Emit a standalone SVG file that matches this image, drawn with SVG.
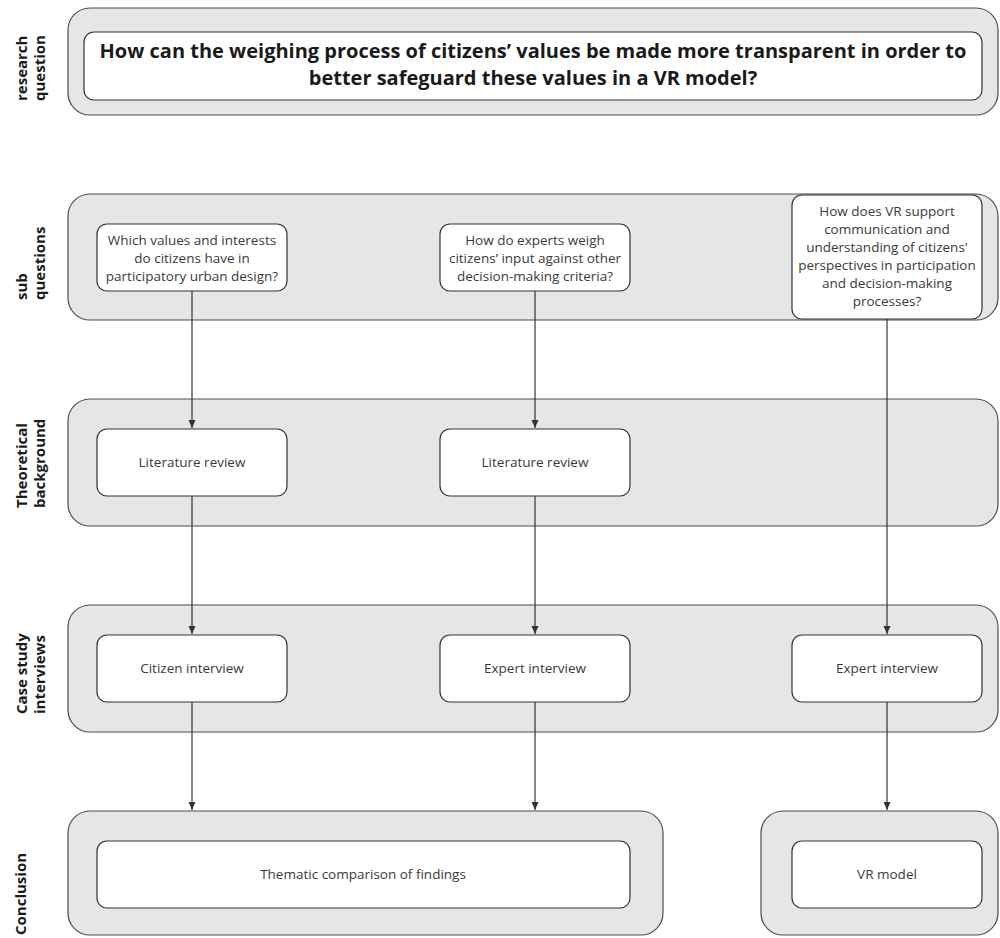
<svg xmlns="http://www.w3.org/2000/svg" width="1000" height="938" viewBox="0 0 1000 938">
<defs>
<style>
.panel{fill:#e6e6e6;stroke:#4d4d4d;stroke-width:1.2}
.box{fill:#ffffff;stroke:#333333;stroke-width:1.2}
.lbl{font-family:"Open Sans","Noto Sans",sans-serif;font-weight:700;font-size:15px;fill:#1a1a1a;text-anchor:start}
.t{font-family:"Open Sans","Noto Sans",sans-serif;font-size:13.5px;fill:#3a3a3a;text-anchor:middle}
.rq{font-family:"Open Sans","Noto Sans",sans-serif;font-weight:700;font-size:20px;fill:#1a1a1a;text-anchor:middle}
.conn{stroke:#333333;stroke-width:1.2;fill:none}
</style>
<marker id="arr" markerWidth="10" markerHeight="10" refX="9" refY="5" orient="auto" markerUnits="userSpaceOnUse">
<path d="M1,1.5 L9,5 L1,8.5 Z" fill="#333333"/>
</marker>
</defs>
<rect width="1000" height="938" fill="#ffffff"/>

<g id="row-research">
<rect class="panel" x="68" y="8" width="930" height="107" rx="22"/>
<text class="lbl" transform="translate(0,101) rotate(-90)"><tspan x="0" y="27">research</tspan><tspan x="0" y="45">question</tspan></text>
</g>
<g id="node-rq">
<rect class="box" x="84" y="32" width="898" height="68" rx="10"/>
<text class="rq"><tspan x="533" y="58">How can the weighing process of citizens’ values be made more transparent in order to</tspan><tspan x="533" y="85">better safeguard these values in a VR model?</tspan></text>
</g>

<g id="row-sub">
<rect class="panel" x="68" y="194" width="930" height="126" rx="22"/>
<text class="lbl" transform="translate(0,300) rotate(-90)"><tspan x="0" y="27">sub</tspan><tspan x="0" y="45">questions</tspan></text>
</g>
<g id="node-sq1">
<rect class="box" x="97" y="224" width="190" height="67" rx="10"/>
<text class="t"><tspan x="192" y="245">Which values and interests</tspan><tspan x="192" y="263">do citizens have in</tspan><tspan x="192" y="281">participatory urban design?</tspan></text>
</g>
<g id="node-sq2">
<rect class="box" x="440" y="224" width="190" height="67" rx="10"/>
<text class="t"><tspan x="535" y="245">How do experts weigh</tspan><tspan x="535" y="263">citizens’ input against other</tspan><tspan x="535" y="281">decision-making criteria?</tspan></text>
</g>
<g id="node-sq3">
<rect class="box" x="792" y="195" width="190" height="124" rx="10"/>
<text class="t"><tspan x="887" y="216">How does VR support</tspan><tspan x="887" y="234">communication and</tspan><tspan x="887" y="252">understanding of citizens'</tspan><tspan x="887" y="270">perspectives in participation</tspan><tspan x="887" y="288">and decision-making</tspan><tspan x="887" y="306">processes?</tspan></text>
</g>

<g id="row-theory">
<rect class="panel" x="68" y="399" width="930" height="127" rx="22"/>
<text class="lbl" transform="translate(0,508) rotate(-90)"><tspan x="0" y="27">Theoretical</tspan><tspan x="0" y="45">background</tspan></text>
</g>
<g id="node-lit1">
<rect class="box" x="97" y="429" width="190" height="67" rx="10"/>
<text class="t" x="192" y="467">Literature review</text>
</g>
<g id="node-lit2">
<rect class="box" x="440" y="429" width="190" height="67" rx="10"/>
<text class="t" x="535" y="467">Literature review</text>
</g>

<g id="row-case">
<rect class="panel" x="68" y="605" width="930" height="127" rx="22"/>
<text class="lbl" transform="translate(0,714) rotate(-90)"><tspan x="0" y="27">Case study</tspan><tspan x="0" y="45">interviews</tspan></text>
</g>
<g id="node-ci">
<rect class="box" x="97" y="635" width="190" height="67" rx="10"/>
<text class="t" x="192" y="673">Citizen interview</text>
</g>
<g id="node-ei1">
<rect class="box" x="440" y="635" width="190" height="67" rx="10"/>
<text class="t" x="535" y="673">Expert interview</text>
</g>
<g id="node-ei2">
<rect class="box" x="792" y="635" width="190" height="67" rx="10"/>
<text class="t" x="887" y="673">Expert interview</text>
</g>

<g id="row-conclusion">
<text class="lbl" transform="translate(0,935) rotate(-90)"><tspan x="0" y="26">Conclusion</tspan></text>
</g>
<g id="node-conc1">
<rect class="panel" x="68" y="811" width="595" height="124" rx="22"/>
<rect class="box" x="97" y="841" width="533" height="67" rx="10"/>
<text class="t" x="363" y="879">Thematic comparison of findings</text>
</g>
<g id="node-conc2">
<rect class="panel" x="761" y="811" width="237" height="124" rx="22"/>
<rect class="box" x="792" y="841" width="190" height="67" rx="10"/>
<text class="t" x="887" y="879">VR model</text>
</g>

<g id="connectors">
<line class="conn" x1="192" y1="291" x2="192" y2="428" marker-end="url(#arr)"/>
<line class="conn" x1="192" y1="496" x2="192" y2="634" marker-end="url(#arr)"/>
<line class="conn" x1="192" y1="702" x2="192" y2="810" marker-end="url(#arr)"/>
<line class="conn" x1="535" y1="291" x2="535" y2="428" marker-end="url(#arr)"/>
<line class="conn" x1="535" y1="496" x2="535" y2="634" marker-end="url(#arr)"/>
<line class="conn" x1="535" y1="702" x2="535" y2="810" marker-end="url(#arr)"/>
<line class="conn" x1="887" y1="319" x2="887" y2="634" marker-end="url(#arr)"/>
<line class="conn" x1="887" y1="702" x2="887" y2="810" marker-end="url(#arr)"/>
</g>
</svg>
